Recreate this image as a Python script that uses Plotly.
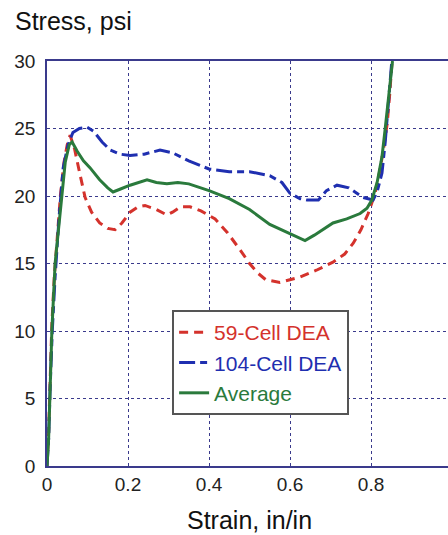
import plotly.graph_objects as go

red_x = [0, 0.004, 0.008, 0.012, 0.018, 0.025, 0.033, 0.042, 0.05, 0.057, 0.068, 0.08, 0.094, 0.11, 0.13, 0.15, 0.168, 0.185, 0.205, 0.225, 0.242, 0.27, 0.296, 0.31, 0.33, 0.353, 0.38, 0.415, 0.445, 0.477, 0.5, 0.52, 0.54, 0.575, 0.6, 0.625, 0.665, 0.706, 0.735, 0.756, 0.775, 0.793, 0.81, 0.822, 0.832, 0.84, 0.846, 0.852]
red_y = [0, 2.5, 6.5, 10.5, 14, 17, 20, 22.5, 23.8, 24.5, 23.5, 21.8, 19.9, 18.8, 18, 17.6, 17.5, 18.0, 18.8, 19.2, 19.3, 19.0, 18.6, 18.8, 19.2, 19.2, 18.9, 18.3, 17.3, 16.0, 15.0, 14.3, 13.8, 13.6, 13.8, 14.0, 14.5, 15.1, 15.7, 16.5, 17.5, 18.7, 20.2, 21.9, 23.7, 25.4, 27.5, 30]

blue_x = [0, 0.004, 0.008, 0.013, 0.02, 0.03, 0.04, 0.052, 0.064, 0.08, 0.099, 0.115, 0.136, 0.156, 0.18, 0.205, 0.24, 0.279, 0.31, 0.35, 0.4, 0.45, 0.5, 0.55, 0.58, 0.6, 0.625, 0.642, 0.67, 0.69, 0.716, 0.745, 0.78, 0.805, 0.815, 0.827, 0.835, 0.842, 0.851]
blue_y = [0, 2, 6, 10, 14, 18.5, 22.1, 23.8, 24.7, 25, 25.1, 24.8, 24, 23.4, 23.1, 23.0, 23.1, 23.4, 23.2, 22.6, 22.0, 21.8, 21.8, 21.5, 21.0, 20.2, 19.8, 19.7, 19.7, 20.4, 20.8, 20.6, 19.9, 19.7, 20.3, 21.7, 24, 26.6, 29.9]

green_x = [0, 0.004, 0.008, 0.012, 0.02, 0.03, 0.037, 0.045, 0.055, 0.062, 0.075, 0.09, 0.106, 0.13, 0.15, 0.163, 0.18, 0.205, 0.247, 0.27, 0.296, 0.323, 0.35, 0.4, 0.45, 0.5, 0.55, 0.6, 0.637, 0.66, 0.706, 0.74, 0.773, 0.79, 0.802, 0.815, 0.827, 0.835, 0.842, 0.853]
green_y = [0, 2, 6, 10, 15, 18, 20, 22.5, 23.8, 24.0, 23.3, 22.6, 22.1, 21.2, 20.6, 20.3, 20.5, 20.8, 21.2, 21.0, 20.9, 21.0, 20.9, 20.4, 19.8, 19.0, 17.9, 17.2, 16.7, 17.1, 18.0, 18.3, 18.7, 19.1, 19.7, 21.0, 22.9, 25.0, 27.1, 30]

x_ticks = [0, 0.2, 0.4, 0.6, 0.8]
x_tick_labels = ["0", "0.2", "0.4", "0.6", "0.8"]
y_ticks = [0, 5, 10, 15, 20, 25, 30]

RED = "#d4322c"
BLUE = "#1f2fb0"
GREEN = "#2a7a3c"
NAVY = "#3a3a8c"
FONT = "Liberation Sans, Arial, sans-serif"


def colored(text, color):
    return f"<span style='color:{color}'>{text}</span>"


fig = go.Figure()
fig.add_trace(go.Scatter(x=red_x, y=red_y, mode="lines", name=colored("59-Cell DEA", RED),
                         line=dict(color=RED, width=3, dash="9px,6px")))
fig.add_trace(go.Scatter(x=blue_x, y=blue_y, mode="lines", name=colored("104-Cell DEA", BLUE),
                         line=dict(color=BLUE, width=3, dash="16px,5px,7px,5px")))
fig.add_trace(go.Scatter(x=green_x, y=green_y, mode="lines", name=colored("Average", GREEN),
                         line=dict(color=GREEN, width=3)))

fig.update_layout(
    width=448, height=535,
    margin=dict(l=47, r=0, t=61, b=69),
    paper_bgcolor="white", plot_bgcolor="white",
    font=dict(family=FONT, size=19, color="#222222"),
    showlegend=True,
    legend=dict(x=0.312, y=0.385, xanchor="left", yanchor="top",
                bgcolor="white", bordercolor="#555555", borderwidth=2,
                font=dict(size=21, family=FONT),
                itemwidth=30, tracegroupgap=0),
    xaxis=dict(range=[0, 0.99], tickvals=x_ticks, ticktext=x_tick_labels,
               showgrid=True, gridcolor=NAVY, griddash="dot", gridwidth=1,
               showline=True, linecolor=NAVY, linewidth=1.5, mirror=True,
               zeroline=False, ticks="", tickfont=dict(size=19, color="#222222")),
    yaxis=dict(range=[0, 30], tickvals=y_ticks,
               showgrid=True, gridcolor=NAVY, griddash="dot", gridwidth=1,
               showline=True, linecolor=NAVY, linewidth=1.5, mirror=False,
               zeroline=False, ticks="", ticklabelstandoff=6,
               tickfont=dict(size=19, color="#222222")),
    annotations=[
        dict(text="Stress, psi", xref="paper", yref="paper", x=-0.085, y=1.0,
             yshift=40, xanchor="left", yanchor="middle", showarrow=False,
             font=dict(size=25, family=FONT, color="#111111")),
        dict(text="Strain, in/in", xref="paper", yref="paper", x=0.506, y=0,
             yshift=-54, xanchor="center", yanchor="middle", showarrow=False,
             font=dict(size=25, family=FONT, color="#111111")),
    ],
)
fig.write_html("out.html")
